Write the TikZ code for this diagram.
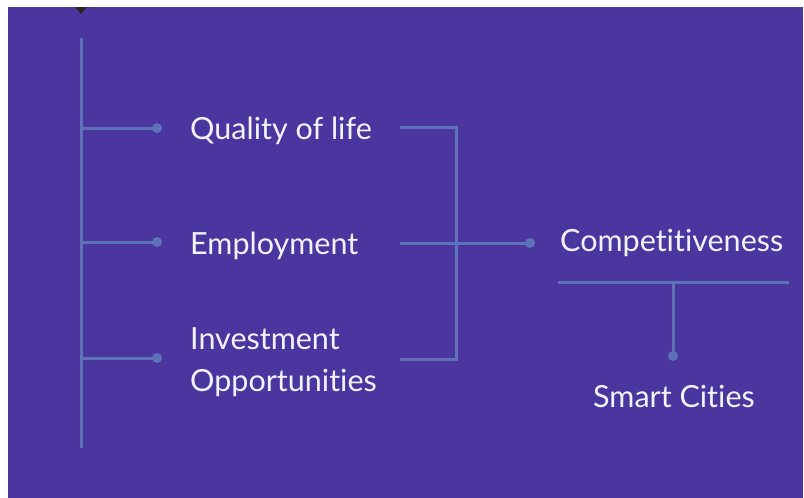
\documentclass[tikz,border=0pt]{standalone}
\usepackage{fontspec}
\setmainfont{Lato}[Ligatures={NoCommon,NoRare}]
\usetikzlibrary{positioning}
\definecolor{bgpurple}{HTML}{4B369F}
\definecolor{linkblue}{HTML}{5E72B8}
\definecolor{labelwhite}{HTML}{F2F2FA}
\begin{document}
\begin{tikzpicture}[x=1pt, y=-1pt,
      every node/.append style={font=\fontsize{30.5}{42}\selectfont},
      link/.style={draw=linkblue, line width=3pt},
      dot/.style={circle, fill=linkblue, inner sep=0pt, minimum size=10pt}]
    \tikzstyle{word} = [color=labelwhite, anchor=west, inner sep=0pt, align=left]
    \useasboundingbox (0,0) rectangle (804,498);
    \fill[bgpurple] (8,7) rectangle (803,498);
    \fill[black!85] (75,7) -- (87,7) -- (81,14) -- cycle;
    % left spine
    \coordinate (top) at (81,38);
    \coordinate (bottom) at (81,448);
    \draw[link] (top) -- (bottom);
    % branches
    \node (d1) [dot] at (157,128) {};
    \node (d2) [dot] at (157,242) {};
    \node (d3) [dot] at (157,358) {};
    \draw[link] (top |- d1) -- (d1.center);
    \draw[link] (top |- d2) -- (d2.center);
    \draw[link] (top |- d3) -- (d3.center);
    \node (quality) [word] at (190,131) {Quality of life};
    \node (employment) [word] at (190,246) {Employment};
    \node (investment) [word] at (190,362) {Investment\\Opportunities};
    % bracket
    \coordinate (q) at (400,127);
    \coordinate (e) at (400,243);
    \coordinate (o) at (400,359);
    \coordinate (joint) at (456,243);
    \draw[link] (q) -| (joint) |- (o);
    \node (d4) [dot] at (530,243) {};
    \draw[link] (e) -- (d4.center);
    \node (competitiveness) [word] at (560,243) {Competitiveness};
    % smart cities
    \coordinate (barleft) at (558,282);
    \coordinate (barright) at (789,282);
    \draw[link] (barleft) -- (barright);
    \node (d5) [dot] at (673,356) {};
    \draw[link] (d5.center |- barleft) -- (d5.center);
    \node (smart) [word] at (593,396) {Smart Cities};
\end{tikzpicture}
\end{document}
